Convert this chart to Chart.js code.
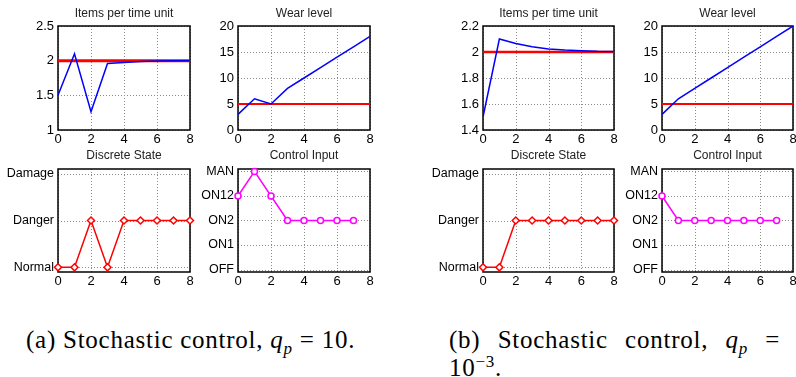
<!DOCTYPE html>
<html lang="en">
<head>
    <meta charset="UTF-8">
    <title>Stochastic control</title>
    <script src="https://cdn.jsdelivr.net/npm/chart.js"></script>
    <style>
        html, body {
            margin: 0;
            padding: 0;
            background: #fff;
            overflow: hidden;
            width: 796px;
            height: 377px;
        }
        canvas {
            position: absolute;
        }
        .caption {
            position: absolute;
            font-family: "Liberation Serif", serif;
            font-size: 25px;
            line-height: 28px;
            color: #000;
            letter-spacing: 0.75px;
        }
        .caption sub { font-size: 17px; line-height: 0; }
        .caption sup { font-size: 17px; line-height: 0; }
        #capA { left: 26px; top: 326px; width: 345px; }
        #capB { left: 449px; top: 326px; width: 331px; text-align: justify; text-align-last: justify; }
    </style>
</head>
<body>
    <canvas id="itemsA"></canvas>
    <canvas id="wearA"></canvas>
    <canvas id="stateA"></canvas>
    <canvas id="controlA"></canvas>
    <canvas id="itemsB"></canvas>
    <canvas id="wearB"></canvas>
    <canvas id="stateB"></canvas>
    <canvas id="controlB"></canvas>

    <div class="caption" id="capA">(a) Stochastic control, <i>q<sub>p</sub></i> = 10.</div>
    <div class="caption" id="capB">(b) Stochastic control, <i>q<sub>p</sub></i> =<br>10<sup>−3</sup>.</div>

    <script>
        // time steps
        const steps = [0, 1, 2, 3, 4, 5, 6, 7, 8];
        const controlSteps = [0, 1, 2, 3, 4, 5, 6, 7];
        const xTicks = [0, 2, 4, 6, 8];

        // (a) q_p = 10
        const itemsA = [1.5, 2.1, 1.265, 1.96, 1.975, 1.988, 1.995, 1.998, 2.0];
        const itemsTargetA = [2, 2, 2, 2, 2, 2, 2, 2, 2];
        const wearA = [3, 6, 5, 8, 10, 12, 14, 16, 18];
        const wearLimitA = [5, 5, 5, 5, 5, 5, 5, 5, 5];
        const stateA = [0, 0, 1, 0, 1, 1, 1, 1, 1];
        const controlA = [3, 4, 3, 2, 2, 2, 2, 2];

        // (b) q_p = 1e-3
        const itemsB = [1.5, 2.1, 2.065, 2.04, 2.023, 2.015, 2.01, 2.005, 2.003];
        const itemsTargetB = [2, 2, 2, 2, 2, 2, 2, 2, 2];
        const wearB = [3, 6, 8, 10, 12, 14, 16, 18, 20];
        const wearLimitB = [5, 5, 5, 5, 5, 5, 5, 5, 5];
        const stateB = [0, 0, 1, 1, 1, 1, 1, 1, 1];
        const controlB = [3, 2, 2, 2, 2, 2, 2, 2];

        // axis ticks
        const itemsTicksA = [1, 1.5, 2, 2.5];
        const itemsTicksB = [1.4, 1.6, 1.8, 2, 2.2];
        const wearTicks = [0, 5, 10, 15, 20];
        const stateLabels = ['Normal', 'Danger', 'Damage'];
        const controlLabels = ['OFF', 'ON1', 'ON2', 'ON12', 'MAN'];

        const Y_AXIS_W = 56;
        const X_AXIS_H = 20;
        const RIGHT_PAD = 8;

        // dotted grid at the scale ticks + black frame, drawn under the data
        // (dots as 1px squares: dashed strokes come out blank here)
        const boxPlugin = {
            id: 'box',
            beforeDatasetsDraw(chart) {
                const { ctx, chartArea: a } = chart;
                const xs = chart.scales.x, ys = chart.scales.y;
                ctx.save();
                ctx.fillStyle = '#8c8c8c';
                xs.ticks.forEach(t => {
                    const px = Math.round(xs.getPixelForValue(t.value));
                    for (let y = Math.ceil(a.top); y < a.bottom; y += 3) ctx.fillRect(px, y, 1, 1);
                });
                ys.ticks.forEach(t => {
                    const py = Math.round(ys.getPixelForValue(t.value));
                    for (let x = Math.ceil(a.left); x < a.right; x += 3) ctx.fillRect(x, py, 1, 1);
                });
                ctx.strokeStyle = '#000';
                ctx.lineWidth = 1.5;
                ctx.strokeRect(a.left, a.top, a.right - a.left, a.bottom - a.top);
                ctx.restore();
            }
        };

        function points(xs, ys) {
            return xs.map((x, i) => ({ x: x, y: ys[i] }));
        }

        function lineSet(xs, ys, color, width) {
            return {
                data: points(xs, ys),
                borderColor: color,
                borderWidth: width,
                pointRadius: 0,
                tension: 0,
                fill: false
            };
        }

        function markerSet(xs, ys, color, style) {
            return {
                data: points(xs, ys),
                borderColor: color,
                borderWidth: 1.5,
                pointStyle: style,
                pointRadius: style === 'rectRot' ? 3.5 : 3,
                pointBorderColor: color,
                pointBorderWidth: 1.5,
                pointBackgroundColor: '#fff',
                tension: 0,
                fill: false,
                clip: false
            };
        }

        function makePanel(id, opts) {
            const canvas = document.getElementById(id);
            const w = Y_AXIS_W + opts.plotW + RIGHT_PAD;
            const h = opts.plotBottom - opts.rowTop + X_AXIS_H;
            canvas.width = w;
            canvas.height = h;
            canvas.style.left = (opts.plotLeft - Y_AXIS_W) + 'px';
            canvas.style.top = opts.rowTop + 'px';
            canvas.style.width = w + 'px';
            canvas.style.height = h + 'px';

            const grid = { display: false, drawTicks: false };
            const border = { display: false };

            return new Chart(canvas.getContext('2d'), {
                type: 'line',
                data: { datasets: opts.datasets },
                options: {
                    responsive: false,
                    animation: false,
                    devicePixelRatio: 1,
                    layout: { padding: { left: 0, right: RIGHT_PAD, top: 0, bottom: 0 } },
                    plugins: {
                        legend: { display: false },
                        tooltip: { enabled: false },
                        title: {
                            display: true,
                            text: opts.title,
                            fullSize: false,
                            color: '#222',
                            font: { family: 'Liberation Sans', size: 12, weight: 'normal', lineHeight: 1.2 },
                            padding: opts.titlePad
                        }
                    },
                    scales: {
                        x: {
                            type: 'linear',
                            min: 0,
                            max: 8,
                            afterBuildTicks: s => { s.ticks = xTicks.map(v => ({ value: v })); },
                            afterFit: s => { s.height = X_AXIS_H; },
                            ticks: {
                                color: '#000',
                                padding: 2,
                                maxRotation: 0,
                                font: { family: 'Liberation Sans', size: 13 },
                                callback: v => String(v)
                            },
                            grid: grid,
                            border: border
                        },
                        y: {
                            type: 'linear',
                            min: opts.yMin,
                            max: opts.yMax,
                            afterBuildTicks: s => { s.ticks = opts.yTicks.map(v => ({ value: v })); },
                            afterFit: s => { s.width = Y_AXIS_W; },
                            ticks: {
                                color: '#000',
                                padding: 4,
                                font: { family: 'Liberation Sans', size: opts.yFont || 13 },
                                callback: opts.yLabel
                            },
                            grid: grid,
                            border: border
                        }
                    }
                },
                plugins: [boxPlugin]
            });
        }

        const topRow = { rowTop: 0, plotBottom: 130, titlePad: { top: 6, bottom: 5.6 } };
        const bottomRow = { rowTop: 140, plotBottom: 272, titlePad: { top: 8, bottom: 6.6 }, yFont: 12.5 };
        const numLabel = v => String(v);
        const stateIdx = [0, 1, 2];
        const controlIdx = [0, 1, 2, 3, 4];

        makePanel('itemsA', Object.assign({}, topRow, {
            plotLeft: 58, plotW: 132, title: 'Items per time unit',
            yMin: 1, yMax: 2.5, yTicks: itemsTicksA, yLabel: numLabel,
            datasets: [lineSet(steps, itemsA, '#0000ff', 1.5), lineSet(steps, itemsTargetA, '#ff0000', 3)]
        }));
        makePanel('wearA', Object.assign({}, topRow, {
            plotLeft: 238, plotW: 132, title: 'Wear level',
            yMin: 0, yMax: 20, yTicks: wearTicks, yLabel: numLabel,
            datasets: [lineSet(steps, wearA, '#0000ff', 1.5), lineSet(steps, wearLimitA, '#ff0000', 2)]
        }));
        makePanel('stateA', Object.assign({}, bottomRow, {
            plotLeft: 58, plotW: 132, title: 'Discrete State',
            yMin: -0.1, yMax: 2.1, yTicks: stateIdx, yLabel: v => stateLabels[v],
            datasets: [markerSet(steps, stateA, '#ff0000', 'rectRot')]
        }));
        makePanel('controlA', Object.assign({}, bottomRow, {
            plotLeft: 238, plotW: 132, title: 'Control Input',
            yMin: -0.1, yMax: 4.1, yTicks: controlIdx, yLabel: v => controlLabels[v],
            datasets: [markerSet(controlSteps, controlA, '#ff00ff', 'circle')]
        }));

        makePanel('itemsB', Object.assign({}, topRow, {
            plotLeft: 483, plotW: 131, title: 'Items per time unit',
            yMin: 1.4, yMax: 2.2, yTicks: itemsTicksB, yLabel: numLabel,
            datasets: [lineSet(steps, itemsB, '#0000ff', 1.5), lineSet(steps, itemsTargetB, '#ff0000', 2.5)]
        }));
        makePanel('wearB', Object.assign({}, topRow, {
            plotLeft: 662, plotW: 131, title: 'Wear level',
            yMin: 0, yMax: 20, yTicks: wearTicks, yLabel: numLabel,
            datasets: [lineSet(steps, wearB, '#0000ff', 1.5), lineSet(steps, wearLimitB, '#ff0000', 2)]
        }));
        makePanel('stateB', Object.assign({}, bottomRow, {
            plotLeft: 483, plotW: 131, title: 'Discrete State',
            yMin: -0.1, yMax: 2.1, yTicks: stateIdx, yLabel: v => stateLabels[v],
            datasets: [markerSet(steps, stateB, '#ff0000', 'rectRot')]
        }));
        makePanel('controlB', Object.assign({}, bottomRow, {
            plotLeft: 662, plotW: 131, title: 'Control Input',
            yMin: -0.1, yMax: 4.1, yTicks: controlIdx, yLabel: v => controlLabels[v],
            datasets: [markerSet(controlSteps, controlB, '#ff00ff', 'circle')]
        }));
    </script>
</body>
</html>
